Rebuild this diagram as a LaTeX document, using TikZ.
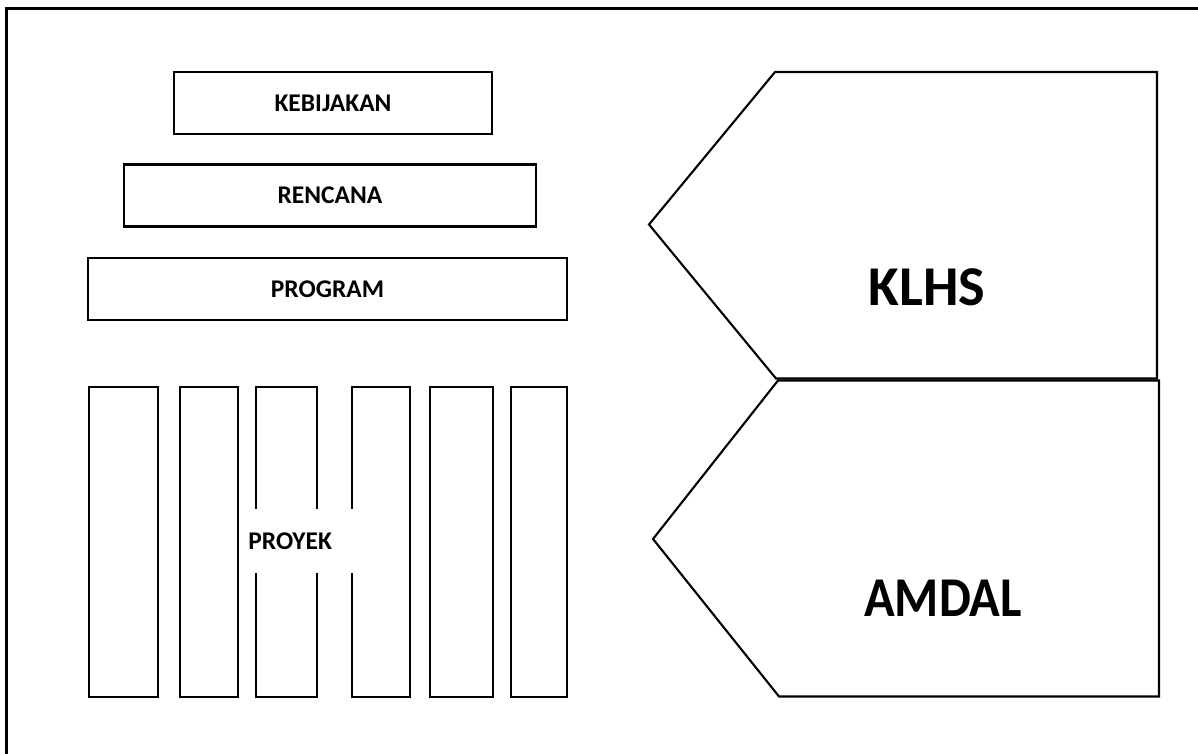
\documentclass[tikz,border=0pt]{standalone}
\usepackage{fontspec}
\setmainfont{Carlito}
\usetikzlibrary{positioning}

\begin{document}
\begin{tikzpicture}[
    x=0.02cm, y=-0.02cm,
    lvl/.style={rectangle, draw, line width=1.2pt, minimum height=1.24cm, inner sep=0pt,
        font=\fontsize{14.5}{16}\selectfont\bfseries},
    bar/.style={rectangle, draw, line width=1.2pt, minimum height=6.2cm, inner sep=0pt},
    arrowbox/.style={draw, line width=1.2pt, line join=miter},
    big/.style={font=\fontsize{32}{36}\selectfont\bfseries}
]
    \useasboundingbox (0,0) rectangle (1198,754);
    % frame
    \draw[line width=1.7pt] (6.5,1200) |- (1600,8.5);

    % levels
    \node[lvl, minimum width=6.36cm] (kebijakan) at (333,103) {KEBIJAKAN};
    \node[lvl, minimum width=8.24cm] (rencana) at (330,195.5) {RENCANA};
    \node[lvl, minimum width=9.58cm] (program) at (327.5,289) {PROGRAM};

    % projects
    \foreach \c/\w [count=\i] in {123.5/69, 209/58, 286.5/61, 381/58, 461.5/63, 539/56}
        \node[bar, minimum width=\w*0.02cm] (bar\i) at (\c,542) {};
    \node[fill=white, anchor=west, minimum height=1.3cm, text width=3.06cm, inner xsep=0.16cm,
        align=left, font=\fontsize{14.5}{16}\selectfont\bfseries] (proyek) at (240,541) {PROYEK};

    % KLHS / AMDAL
    \draw[arrowbox] (775,72) -- (1157,72) -- (1157,378.5) -- (776,378.5) -- (649,224.5) -- cycle;
    \node[big] (klhs) at (927,287) {KLHS};
    \draw[arrowbox] (778,380.5) -- (1159,380.5) -- (1159,696.5) -- (779,696.5) -- (653,539) -- cycle;
    \node[big, xscale=0.9] (amdal) at (943,598) {AMDAL};
\end{tikzpicture}
\end{document}
